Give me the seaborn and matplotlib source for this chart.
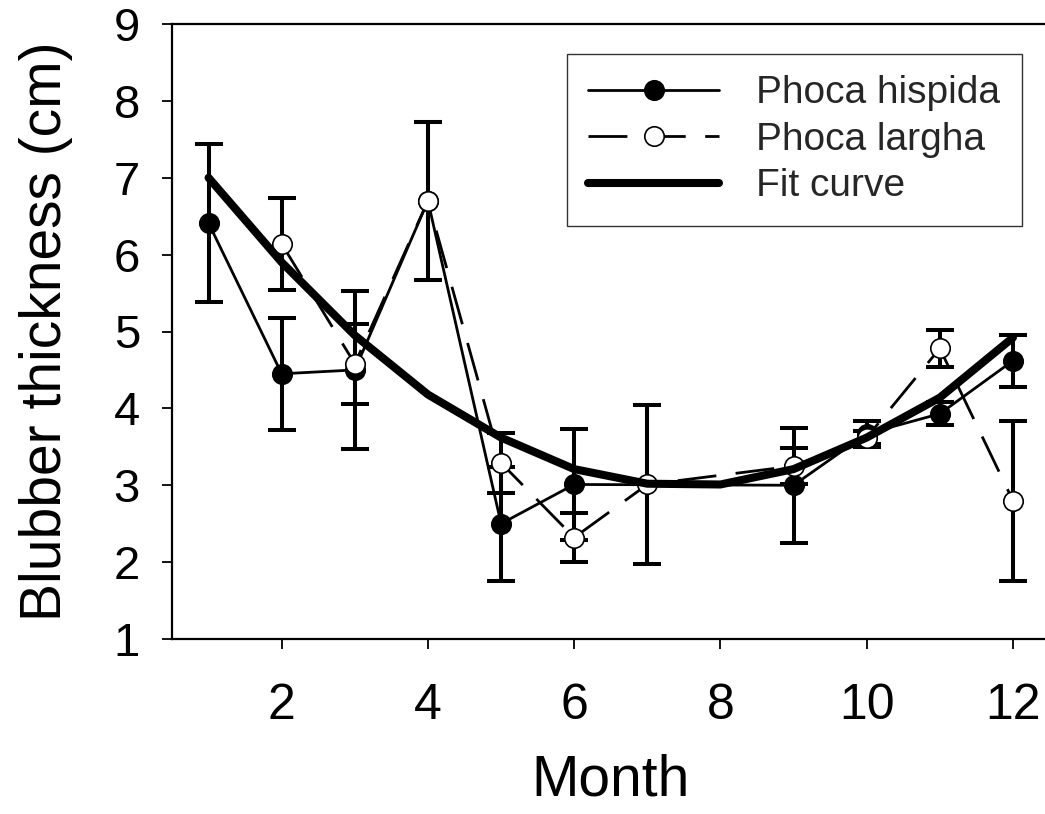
import numpy as np
import pandas as pd
import matplotlib
matplotlib.use("Agg")
import matplotlib.pyplot as plt
import seaborn as sns

# ---- data ----
hispida_month = [1, 2, 3, 4, 5, 6, 9, 10, 11, 12]
hispida_value = [6.41, 4.45, 4.50, 6.70, 2.50, 3.01, 3.00, 3.67, 3.93, 4.62]
hispida_err = [1.03, 0.73, 1.03, 1.03, 0.74, 0.72, 0.75, 0.17, 0.15, 0.34]

largha_month = [2, 3, 4, 5, 6, 7, 9, 10, 11, 12]
largha_value = [6.14, 4.58, 6.70, 3.29, 2.32, 3.01, 3.25, 3.62, 4.78, 2.80]
largha_err = [0.60, 0.52, 1.03, 0.39, 0.32, 1.04, 0.23, 0.08, 0.24, 1.04]

fit_month = [1, 2, 3, 4, 5, 6, 7, 8, 9, 10, 11, 12]
fit_value = [7.00, 5.90, 4.95, 4.18, 3.62, 3.21, 3.02, 3.01, 3.21, 3.62, 4.14, 4.92]

x_ticks = [2, 4, 6, 8, 10, 12]
y_ticks = [1, 2, 3, 4, 5, 6, 7, 8, 9]

df_h = pd.DataFrame({"Month": hispida_month, "Thickness": hispida_value, "err": hispida_err})
df_l = pd.DataFrame({"Month": largha_month, "Thickness": largha_value, "err": largha_err})
df_f = pd.DataFrame({"Month": fit_month, "Thickness": fit_value})

sns.set_theme(style="white")
plt.rcParams["font.family"] = ["Liberation Sans", "DejaVu Sans"]

fig = plt.figure(figsize=(10.45, 8.14), dpi=100)
ax = fig.add_axes([172 / 1045, 1 - 639 / 814, (1049.5 - 172) / 1045, (639 - 24) / 814])

# error bars (behind markers)
ax.errorbar(df_h["Month"], df_h["Thickness"], yerr=df_h["err"], fmt="none",
            ecolor="black", elinewidth=2.9, capsize=10, capthick=2.9, zorder=2)
ax.errorbar(df_l["Month"], df_l["Thickness"], yerr=df_l["err"], fmt="none",
            ecolor="black", elinewidth=2.9, capsize=10, capthick=2.9, zorder=2)

sns.lineplot(data=df_h, x="Month", y="Thickness", ax=ax, color="black",
             linewidth=2.0, marker="o", markersize=14, markerfacecolor="black",
             markeredgecolor="black", markeredgewidth=1.2, label="Phoca hispida",
             zorder=3)
sns.lineplot(data=df_l, x="Month", y="Thickness", ax=ax, color="black",
             linewidth=2.0, marker="o", markersize=14, markerfacecolor="white",
             markeredgecolor="black", markeredgewidth=1.2, label="Phoca largha",
             zorder=4)
ax.lines[-1].set_dashes((14, 7))
sns.lineplot(data=df_f, x="Month", y="Thickness", ax=ax, color="black",
             linewidth=5.8, label="Fit curve", zorder=5)

ax.set_xlim(0.5, 12.5)
ax.set_ylim(1, 9)
ax.set_xticks(x_ticks)
ax.set_yticks(y_ticks)
ax.set_xticklabels([str(t) for t in x_ticks])
ax.set_yticklabels([str(t) for t in y_ticks])

ax.tick_params(axis="x", direction="out", length=7, width=1.3, labelsize=36, pad=25,
               bottom=True, colors="black")
ax.tick_params(axis="y", direction="out", length=7, width=1.3, labelsize=34, pad=16,
               left=True, colors="black")

for side in ["left", "bottom", "top"]:
    ax.spines[side].set_visible(True)
    ax.spines[side].set_color("black")
    ax.spines[side].set_linewidth(1.6)
ax.spines["right"].set_visible(False)

ax.set_xlabel("Month", fontsize=41, labelpad=17, color="black")
ax.set_ylabel("Blubber thickness (cm)", fontsize=41, labelpad=29, color="black")

leg = ax.legend(loc="upper left", bbox_to_anchor=(567 / 1045, 1 - 54 / 814),
                bbox_transform=fig.transFigure, fontsize=28, frameon=True,
                fancybox=False, shadow=False, handlelength=3.37, handletextpad=0.95,
                borderpad=0.55, labelspacing=0.27, borderaxespad=0)
leg.get_frame().set_edgecolor("black")
leg.get_frame().set_linewidth(1.0)

fig.savefig("out.png", dpi=100, facecolor="white")
